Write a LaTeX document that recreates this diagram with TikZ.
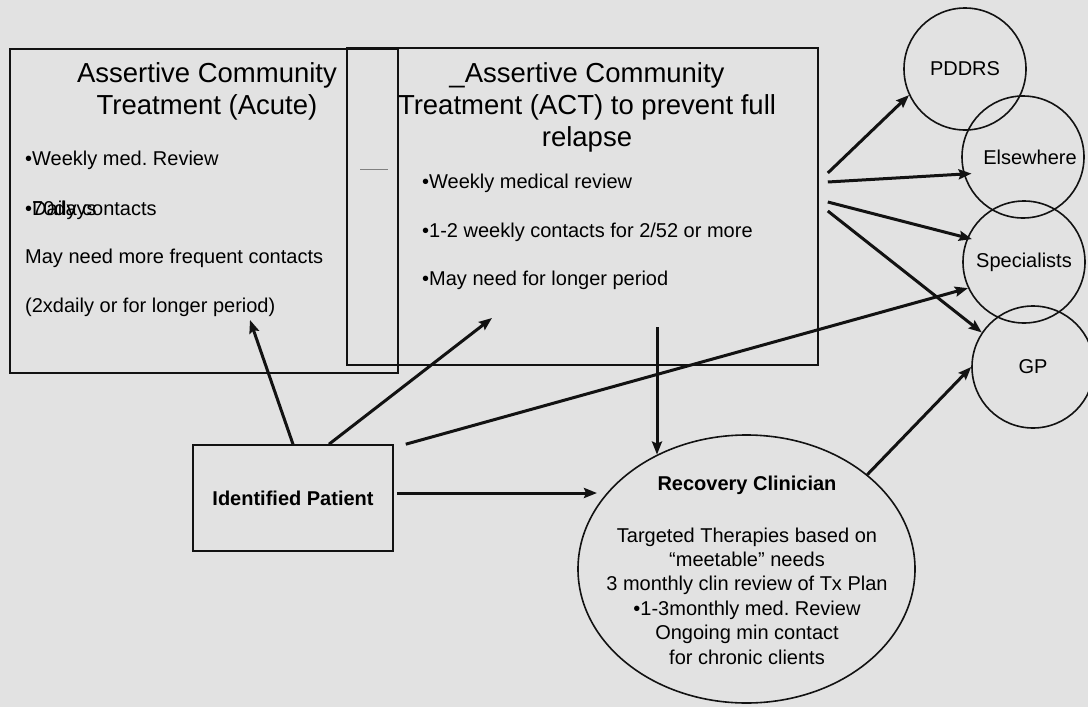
\documentclass[tikz,border=0pt]{standalone}
\usepackage{fontspec}
\setmainfont{Liberation Sans}
\usetikzlibrary{arrows.meta,shapes.geometric,calc}
\definecolor{paper}{RGB}{226,226,226}
\definecolor{ink}{RGB}{18,18,18}
\frenchspacing

\begin{document}
\begin{tikzpicture}[x=1pt,y=-1pt,
  panel/.style={draw=ink,line width=1.6pt,rectangle,inner sep=0pt},
  ring/.style={draw=ink,line width=1.6pt,circle,minimum size=122pt,inner sep=0pt,
    font=\fontsize{20}{24}\selectfont},
  title/.style={align=center,inner sep=0pt,font=\fontsize{27.5}{32}\selectfont},
  item/.style={anchor=west,inner sep=0pt,font=\fontsize{20}{24}\selectfont},
  link/.style={draw=ink,line width=3pt,-{Stealth[length=13pt,width=10pt,inset=2pt]}},
]
% page
\fill[paper] (0,0) rectangle (1088,707);
\useasboundingbox (0,0) rectangle (1088,707);

% two overlapping treatment panels
\node[panel,minimum width=388pt,minimum height=324pt] (acute) at (204,211) {};
\node[panel,minimum width=471pt,minimum height=317pt] (act) at (582.5,206.5) {};
\draw[gray,line width=1pt] (360,169) -- (388,169);

% acute panel text
\node[title] (acuteTitle) at (207,91) {Assertive Community\\Treatment (Acute)};
\node[item] (acuteA) at (25,160) {•Weekly med. Review};
\node[item] (acuteB) at (25,210) {•\rlap{70days}Daily contacts};
\node[item] (acuteC) at (25,258) {May need more frequent contacts};
\node[item] (acuteD) at (25,307) {(2xdaily or for longer period)};

% ACT panel text
\node[title] (actTitle) at (587,107) {\_Assertive Community\\Treatment (ACT) to prevent full\\relapse};
\node[item] (actA) at (422,183) {•Weekly medical review};
\node[item] (actB) at (422,232) {•1-2 weekly contacts for 2/52 or more};
\node[item] (actC) at (422,280) {•May need for longer period};

% patient and recovery clinician
\node[panel,minimum width=200pt,minimum height=106pt,
      font=\bfseries\fontsize{20}{24}\selectfont] (ip) at (293,498) {Identified Patient};
\node[draw=ink,line width=1.6pt,ellipse,minimum width=337pt,minimum height=268pt,
      inner sep=0pt] (rc) at (746.5,569) {};
\node[inner sep=0pt,font=\bfseries\fontsize{20}{24}\selectfont] (rcHead) at (747,485) {Recovery Clinician};
\node[inner sep=0pt,align=center,font=\fontsize{20}{24.4}\selectfont] (rcBody) at (747,596)
  {Targeted Therapies based on\\“meetable” needs\\3 monthly clin review of Tx Plan\\
   •1-3monthly med. Review\\Ongoing min contact\\for chronic clients};

% onward services
\node[ring] (pd) at (965,69) {PDDRS};
\node[ring] (el) at (1023,157) {\hspace{14pt}Elsewhere};
\node[ring] (sp) at (1024,262) {Specialists};
\node[ring] (gp) at (1033,367) {GP};

% connectors
\coordinate (acuteTip) at (250,320);
\coordinate (actTip) at (492,318);
\coordinate (rcIn) at (597,493);
\coordinate (actOut) at (657,327);
\coordinate (fanA) at ($(act.east)+(9,-33.5)$);
\coordinate (fanB) at ($(act.east)+(9,-24.5)$);
\coordinate (fanC) at ($(act.east)+(9,-4.5)$);
\coordinate (fanD) at ($(act.east)+(9,4.5)$);

\draw[link] (ip.north) -- (acuteTip);
\draw[link] ($(ip.north)+(36,0)$) -- (actTip);
\draw[link] ($(ip.north east)+(12,0)$) -- (sp.205.7);
\draw[link] ($(ip.east)+(3,-5)$) -- (rcIn);
\draw[link] (actOut) -- (actOut |- rc.128.25);
\draw[link] (rc.38.8) -- (gp.180);
\draw[link] (fanA) -- (pd.205);
\draw[link,shorten >=-8pt] (fanB) -- (el.196);
\draw[link,shorten >=-5pt] (fanC) -- (sp.157);
\draw[link] (fanD) -- (gp.146);
\end{tikzpicture}
\end{document}
